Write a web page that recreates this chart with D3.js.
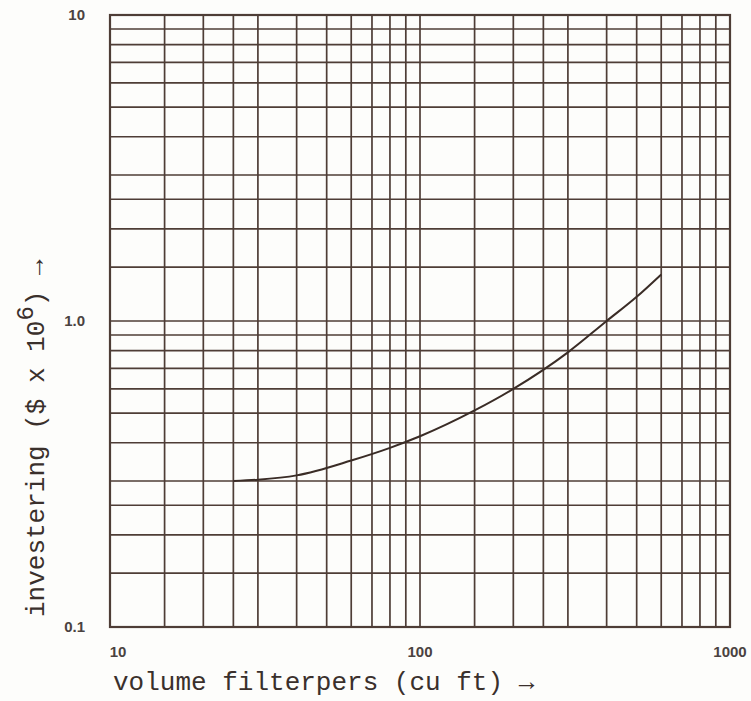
<!DOCTYPE html>
<html>
<head>
<meta charset="utf-8">
<script src="https://cdn.jsdelivr.net/npm/d3@7"></script>
<style>
  body { margin: 0; background: #fdfdfb; }
  .tick-label { font-family: "Liberation Sans", Arial, sans-serif; font-weight: bold; font-size: 15px; fill: #4a4240; }
  .axis-title { font-family: "Liberation Mono", "Courier New", monospace; font-size: 26px; fill: #3a302c; }
</style>
</head>
<body>
<svg id="chart"></svg>
<script>
const svgWidth = 751;
const svgHeight = 701;

// grid lines of the log-log paper
const xGrid = [10, 15, 20, 25, 30, 40, 50, 60, 70, 80, 90,
  100, 150, 200, 250, 300, 400, 500, 600, 700, 800, 900, 1000];
const yGrid = [0.1, 0.15, 0.2, 0.25, 0.3, 0.4, 0.5, 0.6, 0.7, 0.8, 0.9,
  1, 1.5, 2, 2.5, 3, 4, 5, 6, 7, 8, 9, 10];

// labelled ticks
const xTicks = [10, 100, 1000];
const xTickLabels = ["10", "100", "1000"];
const yTicks = [0.1, 1, 10];
const yTickLabels = ["0.1", "1.0", "10"];

// the curve
const volume = [25, 30, 40, 60, 80, 100, 150, 200, 300, 400, 500, 600];
const cost = [0.300, 0.303, 0.313, 0.350, 0.385, 0.420, 0.510, 0.600, 0.790, 1.00, 1.20, 1.42];

const margin = { top: 15, right: 21, bottom: 74, left: 110 };
const width = svgWidth - margin.left - margin.right;
const height = svgHeight - margin.top - margin.bottom;

const svg = d3.select("#chart")
  .attr("width", svgWidth)
  .attr("height", svgHeight);

const g = svg.append("g")
  .attr("transform", `translate(${margin.left},${margin.top})`);

const x = d3.scaleLog().domain([10, 1000]).range([0, width]);
const y = d3.scaleLog().domain([0.1, 10]).range([height, 0]);

const gridColor = "#4e3d36";

// vertical grid
g.selectAll(".vgrid")
  .data(xGrid)
  .enter().append("line")
  .attr("class", "vgrid")
  .attr("x1", d => x(d))
  .attr("x2", d => x(d))
  .attr("y1", 0)
  .attr("y2", height)
  .attr("stroke", gridColor)
  .attr("stroke-width", 1.7);

// horizontal grid
g.selectAll(".hgrid")
  .data(yGrid)
  .enter().append("line")
  .attr("class", "hgrid")
  .attr("x1", 0)
  .attr("x2", width)
  .attr("y1", d => y(d))
  .attr("y2", d => y(d))
  .attr("stroke", gridColor)
  .attr("stroke-width", 1.7);

// frame a bit heavier
g.append("rect")
  .attr("width", width)
  .attr("height", height)
  .attr("fill", "none")
  .attr("stroke", gridColor)
  .attr("stroke-width", 2.2);

// tick labels
g.selectAll(".xlab")
  .data(xTicks)
  .enter().append("text")
  .attr("class", "tick-label")
  .attr("x", (d, i) => x(d) + [8, 0, 0][i])
  .attr("y", height + 30)
  .attr("text-anchor", "middle")
  .text((d, i) => xTickLabels[i]);

g.selectAll(".ylab")
  .data(yTicks)
  .enter().append("text")
  .attr("class", "tick-label")
  .attr("x", -25)
  .attr("y", d => y(d) + 5)
  .attr("text-anchor", "end")
  .text((d, i) => yTickLabels[i]);

// curve
const line = d3.line()
  .x((d, i) => x(volume[i]))
  .y(d => y(d))
  .curve(d3.curveMonotoneX);

g.append("path")
  .datum(cost)
  .attr("d", line)
  .attr("fill", "none")
  .attr("stroke", "#3a2c26")
  .attr("stroke-width", 2);

// axis titles
svg.append("text")
  .attr("class", "axis-title")
  .attr("x", 113)
  .attr("y", 690)
  .text("volume filterpers (cu ft) \u2192");

const yt = svg.append("text")
  .attr("class", "axis-title")
  .attr("transform", "translate(44,617) rotate(-90)");
yt.append("tspan").text("investering ($ x 10");
yt.append("tspan").attr("dy", -11).attr("font-size", 24).text("6");
yt.append("tspan").attr("dy", 11).text(") \u2192");
</script>
</body>
</html>
